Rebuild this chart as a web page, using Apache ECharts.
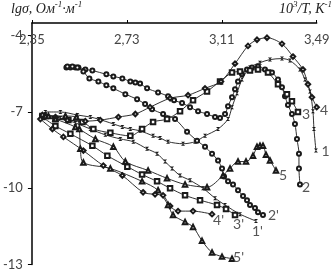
<!DOCTYPE html>
<html><head><meta charset="utf-8">
<script src="https://cdn.jsdelivr.net/npm/echarts@6/dist/echarts.min.js"></script>
<style>html,body{margin:0;padding:0;background:#fff;}#c{width:333px;height:271px;}</style>
</head><body><div id="c"></div>
<script>
// axis ticks
const xTicks = [2.35, 2.73, 3.11, 3.49];
const yTicks = [-13, -10, -7, -4];

// curve 1 (heating) and 1' (cooling)
const c1X = [2.404,2.464,2.532,2.584,2.616,2.676,2.712,2.744,2.783,2.835,2.863,2.895,2.955,3.003,3.043,3.095,3.135,3.151,3.171,3.191,3.223,3.263,3.303,3.351,3.383,3.423,3.443,3.463,3.475,3.479,3.487];
const c1Y = [-7.00,-7.00,-7.12,-7.20,-7.28,-7.47,-7.59,-7.67,-7.74,-7.94,-8.02,-8.17,-8.25,-8.17,-7.94,-7.67,-7.28,-6.81,-6.26,-5.72,-5.25,-5.06,-4.94,-4.90,-4.98,-5.33,-5.72,-6.19,-6.97,-7.67,-8.52];
const c1pX = [2.404,2.464,2.524,2.584,2.644,2.704,2.756,2.811,2.851,2.883,2.911,2.943,2.983,3.035,3.083,3.123,3.183,3.247];
const c1pY = [-7.08,-7.24,-7.43,-7.67,-7.90,-8.06,-8.17,-8.45,-8.64,-8.95,-9.22,-9.50,-9.69,-10.00,-10.39,-10.66,-11.02,-11.29];

// curve 2 and 2'
const c2X = [2.488,2.504,2.524,2.536,2.564,2.592,2.648,2.676,2.712,2.744,2.764,2.783,2.811,2.855,2.895,2.919,2.951,2.983,3.015,3.051,3.083,3.103,3.123,3.135,3.151,3.163,3.175,3.191,3.211,3.231,3.255,3.283,3.311,3.335,3.351,3.363,3.375,3.391,3.403,3.411,3.419,3.419,3.423];
const c2Y = [-5.25,-5.25,-5.25,-5.25,-5.33,-5.37,-5.52,-5.60,-5.68,-5.80,-5.84,-5.88,-6.07,-6.23,-6.38,-6.54,-6.65,-6.81,-6.97,-7.08,-7.20,-7.24,-7.08,-6.77,-6.42,-6.11,-5.80,-5.52,-5.33,-5.25,-5.21,-5.33,-5.45,-5.72,-6.03,-6.38,-6.73,-7.08,-7.47,-8.06,-8.64,-9.22,-9.85];
const c2pX = [2.492,2.512,2.532,2.556,2.580,2.616,2.648,2.676,2.724,2.771,2.803,2.831,2.875,2.923,2.971,3.011,3.043,3.071,3.095,3.111,3.119,3.135,3.155,3.175,3.195,3.211,3.223,3.243,3.255,3.275];
const c2pY = [-5.21,-5.21,-5.25,-5.41,-5.68,-5.80,-5.95,-6.07,-6.30,-6.50,-6.69,-6.89,-7.08,-7.28,-7.78,-8.13,-8.37,-8.64,-8.91,-9.22,-9.54,-9.73,-9.85,-10.08,-10.31,-10.47,-10.66,-10.78,-10.94,-11.05];

// curve 3 and 3'
const c3X = [2.392,2.444,2.496,2.552,2.596,2.664,2.744,2.791,2.835,2.891,2.943,2.995,3.051,3.103,3.151,3.183,3.223,3.255,3.295,3.335,3.371,3.391,3.415];
const c3Y = [-7.16,-7.28,-7.32,-7.39,-7.67,-7.82,-7.94,-7.67,-7.39,-7.28,-6.97,-6.54,-6.19,-5.80,-5.45,-5.41,-5.37,-5.33,-5.45,-5.91,-6.30,-6.58,-7.00];
const c3pX = [2.392,2.444,2.504,2.592,2.652,2.732,2.791,2.851,2.903,2.963,3.023,3.091,3.127,3.163];
const c3pY = [-7.20,-7.55,-7.86,-8.33,-8.72,-9.15,-9.46,-9.73,-10.00,-10.28,-10.47,-10.66,-10.82,-11.05];

// curve 4 and 4'
const c4X = [2.392,2.444,2.492,2.564,2.624,2.696,2.764,2.823,2.903,2.975,3.043,3.107,3.163,3.215,3.251,3.291,3.351,3.395,3.435,3.455,3.471,3.49];
const c4Y = [-7.12,-7.20,-7.32,-7.36,-7.32,-7.20,-7.08,-6.81,-6.46,-6.34,-6.07,-5.80,-5.10,-4.40,-4.16,-4.08,-4.32,-4.82,-5.33,-5.91,-6.42,-6.81];
const c4pX = [2.384,2.432,2.476,2.556,2.636,2.712,2.795,2.843,2.875,2.903,2.935,2.995,3.071];
const c4pY = [-7.28,-7.67,-7.98,-8.52,-9.11,-9.50,-10.16,-10.24,-10.28,-10.70,-10.90,-10.90,-11.02];

// curve 5 and 5'
const c5X = [2.404,2.444,2.524,2.604,2.676,2.724,2.815,2.891,2.963,3.051,3.115,3.143,3.175,3.207,3.235,3.251,3.263,3.275,3.287,3.303,3.327];
const c5Y = [-7.16,-7.28,-7.59,-8.06,-8.37,-8.95,-9.30,-9.61,-9.85,-9.96,-9.50,-9.22,-8.95,-8.95,-8.72,-8.37,-8.33,-8.33,-8.68,-8.91,-9.30];
const c5pX = [2.416,2.484,2.528,2.540,2.544,2.556,2.664,2.791,2.855,2.895,2.915,2.963,2.995,3.031,3.071,3.111,3.151];
const c5pY = [-7.16,-7.16,-7.20,-7.67,-8.45,-8.99,-9.22,-9.73,-10.08,-10.66,-11.05,-11.33,-11.52,-12.07,-12.53,-12.69,-12.77];

const zip = (a, b) => a.slice(0, Math.min(a.length, b.length)).map((v, i) => [v, b[i]]);
const HOUR = 'path://M0,0L10,0L0,10L10,10Z';
const INK = '#1a1a1a';
const LAB = '#555';

function mk(name, xs, ys, symbol, size, off) {
  return {
    type: 'line', name: name, data: zip(xs, ys), smooth: 0.3,
    symbol: symbol, symbolSize: size, showAllSymbol: true, clip: false,
    lineStyle: { color: INK, width: 0.9 },
    itemStyle: { color: INK, borderWidth: 0.9 },
    endLabel: { show: true, formatter: name, color: LAB, fontSize: 14, fontFamily: 'Lato', offset: off },
    emphasis: { disabled: true }, animation: false
  };
}

const chart = echarts.init(document.getElementById('c'), null, { renderer: 'canvas' });
chart.setOption({
  animation: false,
  grid: { left: 31.5, right: 16.3, top: 23, bottom: 4 },
  xAxis: {
    type: 'value', position: 'top', min: 2.35, max: 3.49, interval: 0.38,
    axisLine: { lineStyle: { color: '#000', width: 1.5 } },
    axisTick: { show: true, length: 3, lineStyle: { color: '#000' }, customValues: xTicks },
    axisLabel: { inside: true, margin: 10, color: '#444', fontSize: 13, fontFamily: 'Lato',
      customValues: xTicks,
      formatter: v => v.toFixed(2).replace('.', ',') },
    splitLine: { show: false }
  },
  yAxis: {
    type: 'value', min: -13, max: -3.5, interval: 3,
    axisLine: { show: true, lineStyle: { color: '#000', width: 1.5 } },
    axisTick: { show: true, length: 4, lineStyle: { color: '#000' }, customValues: yTicks },
    axisLabel: { margin: 9, color: '#444', fontSize: 13, fontFamily: 'Lato', customValues: yTicks,
      formatter: v => (Number.isInteger(v) ? String(v) : '') },
    splitLine: { show: false }
  },
  graphic: [
    { type: 'text', left: 11, top: 0, silent: true,
      style: { text: '{t|lgσ, Ом}{s|-1}{t|·м}{s|-1}', fill: '#222',
        rich: { t: { fontFamily: 'Liberation Serif', fontStyle: 'italic', fontSize: 14, lineHeight: 16, verticalAlign: 'bottom', fill: '#222' },
                s: { fontFamily: 'Liberation Serif', fontStyle: 'italic', fontSize: 9, lineHeight: 16, verticalAlign: 'top', fill: '#222' } } } },
    { type: 'text', right: 1, top: 0, silent: true,
      style: { text: '{t|10}{s|3}{t|/T, K}{s|-1}', fill: '#222',
        rich: { t: { fontFamily: 'Liberation Serif', fontStyle: 'italic', fontSize: 14, lineHeight: 16, verticalAlign: 'bottom', fill: '#222' },
                s: { fontFamily: 'Liberation Serif', fontStyle: 'italic', fontSize: 9, lineHeight: 16, verticalAlign: 'top', fill: '#222' } } } }
  ],
  series: [
    mk('1', c1X, c1Y, HOUR, 4, [-2.5, 1]),
    mk("1'", c1pX, c1pY, HOUR, 4, [-12, 10]),
    mk('2', c2X, c2Y, 'emptyCircle', 4, [-6, 3]),
    mk("2'", c2pX, c2pY, 'emptyCircle', 4, [-3, 1]),
    mk('3', c3X, c3Y, 'emptyRect', 4.5, [-4, 3]),
    mk("3'", c3pX, c3pY, 'emptyRect', 4.5, [-10, 10]),
    mk('4', c4X, c4Y, 'emptyDiamond', 4.5, [-4.7, 3]),
    mk("4'", c4pX, c4pY, 'emptyDiamond', 4.5, [-7, 6]),
    mk('5', c5X, c5Y, 'emptyTriangle', 4.5, [-5, 5]),
    mk("5'", c5pX, c5pY, 'emptyTriangle', 4.5, [-7, -1])
  ]
});
</script></body></html>
